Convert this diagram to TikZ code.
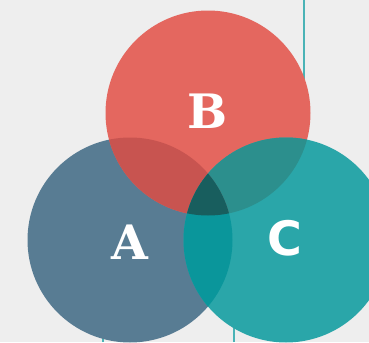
\documentclass[tikz,border=0pt]{standalone}
\usepackage{fontspec}
\newfontfamily\slabfont{DejaVu Serif}
\newfontfamily\plainfont{DejaVu Sans}
\usetikzlibrary{positioning}
\definecolor{paper}{RGB}{238,238,238}
\definecolor{setA}{RGB}{88,124,147}
\definecolor{setB}{RGB}{228,103,95}
\definecolor{setC}{RGB}{42,166,169}
\definecolor{setAB}{RGB}{200,84,80}
\definecolor{setBC}{RGB}{44,143,141}
\definecolor{setAC}{RGB}{10,150,155}
\definecolor{setABC}{RGB}{24,94,94}
\tikzset{
  letter/.style = {text=white, inner sep=0pt, font=\slabfont\bfseries\fontsize{27}{27}\selectfont},
  guide/.style = {draw=setC!85!white, line width=1.1pt}
}

\begin{document}
\begin{tikzpicture}[x=0.02cm,y=-0.02cm]
  \def\rad{102.5}

  \fill[paper] (0,0) rectangle (369,342);
  \useasboundingbox (0,0) rectangle (369,342);

  \coordinate (A) at (130,240);
  \coordinate (B) at (208,113);
  \coordinate (C) at (286,240);

  % thin lines behind the sets
  \draw[guide] (304,0) -- (304,90);
  \draw[guide] (234,342) -- (234,310);
  \draw[guide] (103,342) -- (103,320);

  \fill[setA] (A) circle (\rad);
  \fill[setB] (B) circle (\rad);
  \fill[setC] (C) circle (\rad);

  \begin{scope}
    \clip (B) circle (\rad);
    \fill[setBC] (C) circle (\rad);
  \end{scope}
  \begin{scope}
    \clip (A) circle (\rad);
    \fill[setAB] (B) circle (\rad);
    \fill[setAC] (C) circle (\rad);
    \clip (B) circle (\rad);
    \fill[setABC] (C) circle (\rad);
  \end{scope}

  \node[letter] (labelA) at (130,242) {A};
  \node[letter] (labelB) at (208,111) {B};
  \node[letter, font=\plainfont\bfseries\fontsize{27}{27}\selectfont] (labelC) at (285,238) {C};
\end{tikzpicture}
\end{document}
